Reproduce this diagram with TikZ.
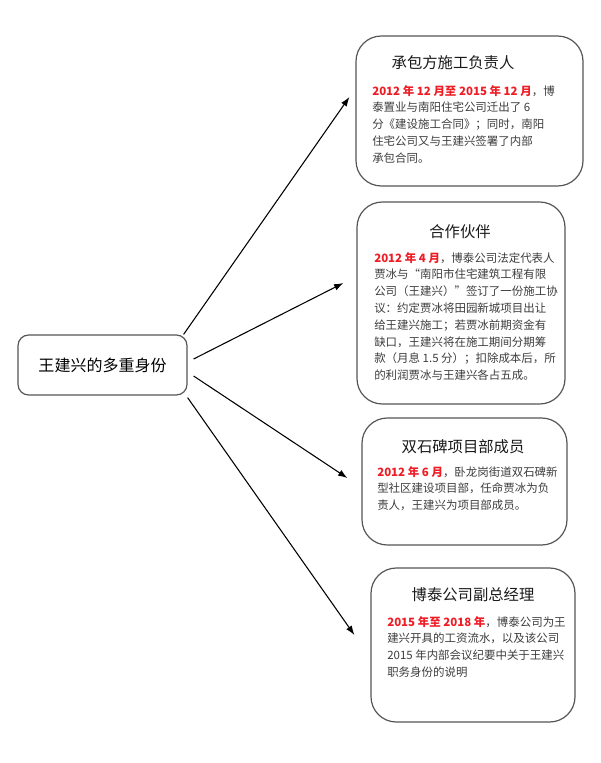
\documentclass[tikz,border=0pt]{standalone}
\usepackage{fontspec}
\setmainfont{Noto Sans CJK SC}
\usepackage{xcolor}
\usetikzlibrary{positioning,arrows.meta}
\definecolor{datered}{HTML}{EE1C25}
\definecolor{bodygray}{HTML}{3C3C3C}
\definecolor{edgegray}{HTML}{555555}
\newcommand{\dt}[1]{\textcolor{datered}{\textbf{#1}}}

\begin{document}
\begin{tikzpicture}[x=0.75pt,y=-0.75pt,
  card/.style={draw=edgegray,line width=0.9pt,rounded corners=19pt},
  title/.style={font=\fontsize{11.5}{14}\selectfont,text=black!90},
  body/.style={anchor=north west,inner sep=0pt,align=left,text=bodygray,font=\fontsize{8.6}{12.6}\selectfont},
  link/.style={-{Latex[length=7pt,width=5pt]},line width=0.8pt}]
  \useasboundingbox (0,0) rectangle (600,763);
  \node[card,rounded corners=8pt,minimum width=126.75pt,minimum height=45pt,font=\fontsize{12}{14}\selectfont] (who) at (102.5,365) {王建兴的多重身份};

  \node[card,minimum width=170.25pt,minimum height=112.5pt] (box1) at (469.5,111) {};
  \node[title] (t1) at (453,63) {承包方施工负责人};
  \node[body] (b1) at (372,85) {\dt{2012 年 12 月至 2015 年 12 月}，博\\
    泰置业与南阳住宅公司迁出了 6\\
    分《建设施工合同》；同时，南阳\\
    住宅公司又与王建兴签署了内部\\
    承包合同。};

  \node[card,minimum width=156pt,minimum height=151.5pt] (box2) at (461,303) {};
  \node[title] (t2) at (460,232) {合作伙伴};
  \node[body] (b2) at (374,252) {\dt{2012 年 4 月}，博泰公司法定代表人\\
    贾冰与“南阳市住宅建筑工程有限\\
    公司（王建兴）”签订了一份施工协\\
    议：约定贾冰将田园新城项目出让\\
    给王建兴施工；若贾冰前期资金有\\
    缺口，王建兴将在施工期间分期筹\\
    款（月息 1.5 分）；扣除成本后，所\\
    的利润贾冰与王建兴各占五成。};

  \node[card,minimum width=153.75pt,minimum height=95.25pt] (box3) at (464.5,481.5) {};
  \node[title] (t3) at (463,447) {双石碑项目部成员};
  \node[body] (b3) at (377,466) {\dt{2012 年 6 月}，卧龙岗街道双石碑新\\
    型社区建设项目部，任命贾冰为负\\
    责人，王建兴为项目部成员。};

  \node[card,minimum width=153pt,minimum height=115.5pt] (box4) at (473,645) {};
  \node[title] (t4) at (473,595) {博泰公司副总经理};
  \node[body] (b4) at (387,616) {\dt{2015 年至 2018 年}，博泰公司为王\\
    建兴开具的工资流水，以及该公司\\
    2015 年内部会议纪要中关于王建兴\\
    职务身份的说明};

  \draw[link] ([xshift=-3pt]who.north east) -- ([xshift=-4.5pt,yshift=10.5pt]box1.west);
  \draw[link] ([xshift=4.5pt,yshift=4.5pt]who.east) -- ([xshift=-9.75pt,yshift=15pt]box2.west);
  \draw[link] ([xshift=4.5pt,yshift=-8.25pt]who.east) -- ([xshift=-10.5pt,yshift=2.6pt]box3.west);
  \draw[link] ([yshift=-1.5pt]who.south east) -- ([xshift=-12pt,yshift=7.5pt]box4.west);
\end{tikzpicture}
\end{document}
